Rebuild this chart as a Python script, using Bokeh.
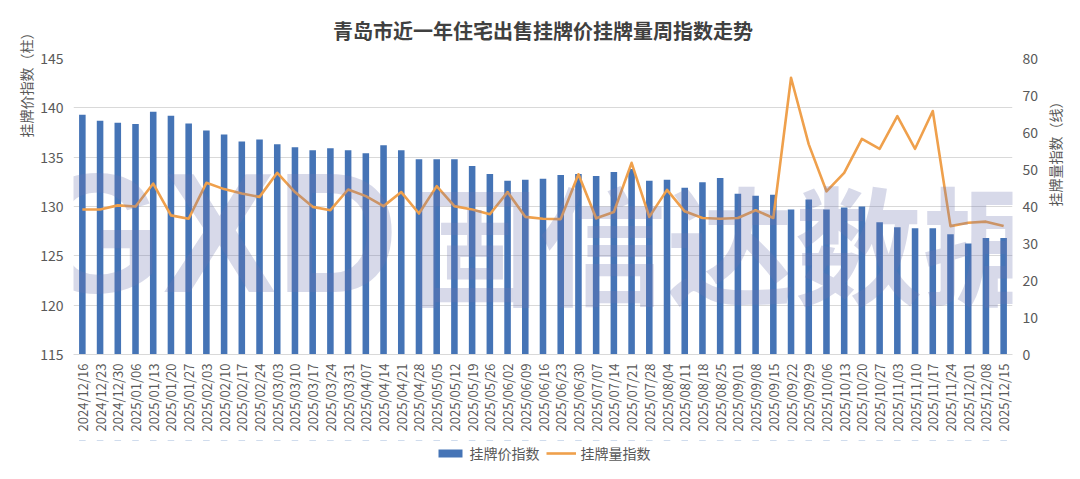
import math
from bokeh.plotting import figure
from bokeh.layouts import column
from bokeh.models import (ColumnDataSource, FactorRange, Range1d, LinearAxis, FixedTicker,
                          Legend, LegendItem, Title, Label)
from bokeh.embed import file_html
from bokeh.resources import INLINE

# ---------------- data ----------------
dates = [
    "2024/12/16", "2024/12/23", "2024/12/30", "2025/01/06", "2025/01/13", "2025/01/20",
    "2025/01/27", "2025/02/03", "2025/02/10", "2025/02/17", "2025/02/24", "2025/03/03",
    "2025/03/10", "2025/03/17", "2025/03/24", "2025/03/31", "2025/04/07", "2025/04/14",
    "2025/04/21", "2025/04/28", "2025/05/05", "2025/05/12", "2025/05/19", "2025/05/26",
    "2025/06/02", "2025/06/09", "2025/06/16", "2025/06/23", "2025/06/30", "2025/07/07",
    "2025/07/14", "2025/07/21", "2025/07/28", "2025/08/04", "2025/08/11", "2025/08/18",
    "2025/08/25", "2025/09/01", "2025/09/08", "2025/09/15", "2025/09/22", "2025/09/29",
    "2025/10/06", "2025/10/13", "2025/10/20", "2025/10/27", "2025/11/03", "2025/11/10",
    "2025/11/17", "2025/11/24", "2025/12/01", "2025/12/08", "2025/12/15",
]
price_index = [
    139.3, 138.7, 138.5, 138.35, 139.6, 139.2, 138.4, 137.7, 137.3, 136.6,
    136.8, 136.3, 136.0, 135.7, 135.9, 135.7, 135.4, 136.2, 135.7, 134.8,
    134.8, 134.8, 134.1, 133.3, 132.6, 132.7, 132.8, 133.2, 133.3, 133.1,
    133.5, 133.8, 132.6, 132.7, 131.9, 132.45, 132.9, 131.3, 131.1, 131.2,
    129.7, 130.7, 129.7, 129.9, 130.0, 128.4, 127.9, 127.8, 127.8, 127.2,
    126.25, 126.8, 126.8,
]
volume_index = [
    39.2, 39.2, 40.3, 40.0, 46.2, 37.6, 36.7, 46.4, 44.7, 43.5,
    42.6, 49.1, 43.9, 39.9, 39.0, 44.6, 42.8, 40.1, 43.9, 38.1,
    45.5, 40.1, 39.2, 37.9, 43.9, 37.2, 36.7, 36.6, 48.7, 36.8,
    38.5, 51.8, 37.2, 44.5, 38.7, 36.9, 36.7, 36.9, 39.0, 36.9,
    74.8, 56.8, 44.1, 49.1, 58.3, 55.6, 64.4, 55.6, 65.8, 34.7,
    35.6, 35.9, 34.7,
]
price_ticks = [115, 120, 125, 130, 135, 140, 145]
volume_ticks = [0, 10, 20, 30, 40, 50, 60, 70, 80]

title_text = "青岛市近一年住宅出售挂牌价挂牌量周指数走势"
left_title = "挂牌价指数（柱）"
right_title = "挂牌量指数（线）"
price_name = "挂牌价指数"
volume_name = "挂牌量指数"
watermark_latin = "GXD"
watermark_cjk = "固信达数据"

# ---------------- style ----------------
FONT = "Noto Sans CJK SC"
TXT = "#595959"
BAR = "#4574B6"
LINE = "#EFA04C"
GRID = "#D9D9D9"

source = ColumnDataSource(data=dict(date=dates, price=price_index, volume=volume_index))

p = figure(
    width=1080, height=440,
    x_range=FactorRange(*dates),
    y_range=Range1d(price_ticks[0], price_ticks[-1]),
    output_backend="svg", toolbar_location=None,
    min_border_left=73, min_border_right=68, min_border_top=58, min_border_bottom=86,
)
p.outline_line_color = None
p.background_fill_color = "white"
p.border_fill_color = "white"

p.title.text = title_text
p.title.align = "center"
p.title.text_font = FONT
p.title.text_font_size = "20px"
p.title.text_font_style = "bold"
p.title.text_color = "#404040"
p.title.standoff = 27

p.extra_y_ranges = {"vol": Range1d(volume_ticks[0], volume_ticks[-1])}

# grids
p.xgrid.grid_line_color = None
p.ygrid.ticker = FixedTicker(ticks=price_ticks)
p.ygrid.grid_line_color = GRID
p.ygrid.grid_line_width = 1

# left axis
la = p.yaxis[0]
la.ticker = FixedTicker(ticks=price_ticks)
la.axis_line_color = None
la.major_tick_line_color = None
la.minor_tick_line_color = None
la.major_tick_out = 0
la.major_label_standoff = 10
la.major_label_text_font = FONT
la.major_label_text_font_size = "14px"
la.major_label_text_color = TXT

# x axis
xa = p.xaxis[0]
xa.axis_line_color = GRID
xa.major_tick_line_color = None
xa.minor_tick_line_color = None
xa.major_tick_out = 0
xa.major_label_orientation = math.pi / 2
xa.major_label_standoff = 9
xa.major_label_text_font = FONT
xa.major_label_text_font_size = "13px"
xa.major_label_text_color = TXT

# right axis (title reads bottom-to-top)
ra = LinearAxis(y_range_name="vol", ticker=FixedTicker(ticks=volume_ticks))
ra.axis_line_color = None
ra.major_tick_line_color = None
ra.minor_tick_line_color = None
ra.major_tick_out = 0
ra.major_label_standoff = 10
ra.major_label_text_font = FONT
ra.major_label_text_font_size = "14px"
ra.major_label_text_color = TXT
ra.axis_label = right_title
ra.axis_label_text_font = FONT
ra.axis_label_text_font_size = "14px"
ra.axis_label_text_font_style = "normal"
ra.axis_label_text_color = TXT
ra.axis_label_standoff = 14
ra.axis_label_orientation = math.pi / 2
p.add_layout(ra, "right")

# left axis title, at the top end (Excel style)
p.add_layout(Title(text=left_title, align="right", offset=-33, text_font=FONT,
                   text_font_size="14px", text_font_style="normal", text_color=TXT,
                   standoff=4), "left")

# data marks
bars = p.vbar(x="date", top="price", bottom=price_ticks[0], width=0.37, source=source,
              fill_color=BAR, line_color=None)
line = p.line(x="date", y="volume", y_range_name="vol", source=source,
              line_color=LINE, line_width=2.6, line_join="round")

# faint watermark
p.add_layout(Label(x=-43, y=122, x_units="screen", y_units="screen", text=watermark_latin,
                   text_align="left", text_baseline="middle",
                   text_font="Liberation Sans", text_font_size="170px", text_font_style="bold",
                   text_color="#7078B0", text_alpha=0.28))
p.add_layout(Label(x=337, y=114, x_units="screen", y_units="screen", text=watermark_cjk,
                   text_align="left", text_baseline="middle",
                   text_font=FONT, text_font_size="128px", text_font_style="bold",
                   text_color="#7078B0", text_alpha=0.28))

# legend strip below the chart (same series, drawn outside the strip's visible range)
lg = figure(width=1080, height=26, x_range=FactorRange(*dates), y_range=Range1d(0, 1),
            output_backend="svg", toolbar_location=None, min_border=0)
lg.axis.visible = False
lg.grid.visible = False
lg.outline_line_color = None
lg.background_fill_color = "white"
lg.border_fill_color = "white"
lg_bars = lg.vbar(x="date", top="price", bottom=price_ticks[0], width=0.37, source=source,
                  fill_color=BAR, line_color=None)
lg_line = lg.line(x="date", y="volume", source=source, line_color=LINE, line_width=2.6)
legend = Legend(items=[LegendItem(label=price_name, renderers=[lg_bars]),
                       LegendItem(label=volume_name, renderers=[lg_line])],
                orientation="horizontal", location="center",
                label_text_font=FONT, label_text_font_size="14px", label_text_color=TXT,
                label_height=16, glyph_width=30, glyph_height=10, spacing=6, label_standoff=5,
                border_line_color=None, background_fill_alpha=0, margin=0, padding=2)
lg.add_layout(legend, "center")

layout = column(p, lg, spacing=0)
open("out.html", "w").write(file_html(layout, INLINE))
